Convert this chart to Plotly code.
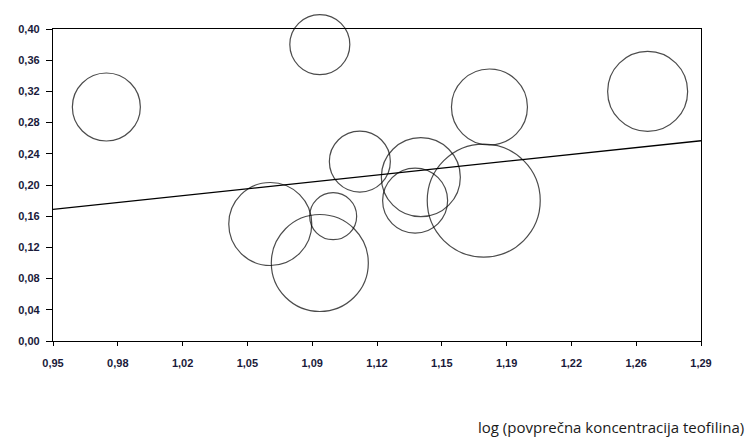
import plotly.graph_objects as go

# Data
log_conc = [0.978, 1.090, 1.111, 1.179, 1.262, 1.143, 1.140, 1.176, 1.064, 1.097, 1.090]
effect = [0.30, 0.38, 0.23, 0.30, 0.32, 0.21, 0.18, 0.18, 0.15, 0.16, 0.10]
weights = [68, 60, 61, 76, 80, 79, 65, 113, 83, 47, 97]

# Regression line coefficients
intercept = -0.0771
slope = 0.2588

x_min, x_max = 0.95, 1.29
x_ticks = [x_min + i * (x_max - x_min) / 10 for i in range(11)]
x_ticktext = [f"{v:.2f}".replace(".", ",") for v in x_ticks]
y_ticks = [i * 0.04 for i in range(11)]
y_ticktext = [f"{v:.2f}".replace(".", ",") for v in y_ticks]

line_x = [x_min, x_max]
line_y = [intercept + slope * v for v in line_x]

fig = go.Figure()
fig.add_trace(go.Scatter(
    x=log_conc, y=effect, mode="markers",
    marker=dict(size=weights, sizemode="diameter", sizeref=1,
                color="rgba(0,0,0,0)", line=dict(color="#000000", width=1.2)),
    cliponaxis=False, hoverinfo="x+y",
))
fig.add_trace(go.Scatter(
    x=line_x, y=line_y, mode="lines",
    line=dict(color="#000000", width=1.3), hoverinfo="skip",
))

tickfont = dict(family="Liberation Sans, Arial, sans-serif", size=11, color="#1a1a3a", weight="bold")

fig.update_layout(
    width=746, height=438,
    margin=dict(l=53, r=45, t=29, b=97),
    paper_bgcolor="white", plot_bgcolor="white",
    showlegend=False,
    xaxis=dict(range=[x_min, x_max], tickvals=x_ticks, ticktext=x_ticktext,
               showgrid=False, zeroline=False, showline=True, linecolor="#000000",
               linewidth=1.3, mirror=True, ticks="outside", ticklen=4,
               tickcolor="#000000", tickfont=tickfont, ticklabelstandoff=8),
    yaxis=dict(range=[0, 0.40], tickvals=y_ticks, ticktext=y_ticktext,
               showgrid=False, zeroline=False, showline=True, linecolor="#000000",
               linewidth=1.3, mirror=True, ticks="outside", ticklen=6,
               tickcolor="#000000", tickfont=tickfont, ticklabelstandoff=4),
    annotations=[dict(
        text="log (povprečna koncentracija teofilina)",
        xref="paper", yref="paper", x=1.07, y=-0.275,
        xanchor="right", yanchor="middle", showarrow=False,
        font=dict(family="Open Sans, sans-serif", size=15, color="#1a1a1a"),
    )],
)

fig.write_html("out.html")
